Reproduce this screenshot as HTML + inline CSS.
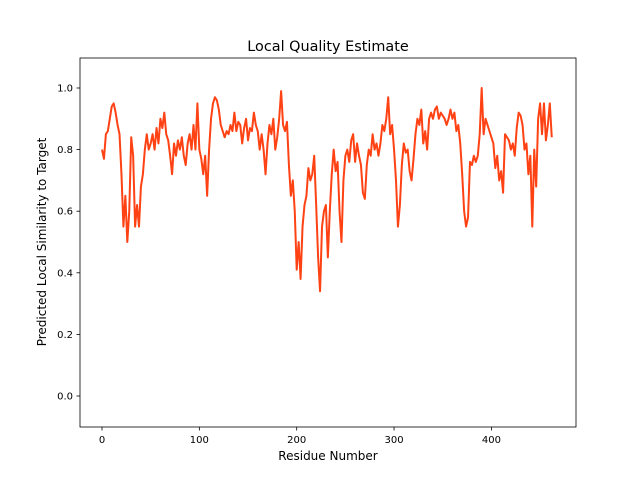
<!DOCTYPE html>
<html><head><meta charset="utf-8"><style>
body{margin:0;background:#fff}
svg text{font-family:"DejaVu Sans","Liberation Sans",sans-serif;fill:#000}
</style></head><body>
<svg id="chart" width="640" height="480" xmlns="http://www.w3.org/2000/svg">
<rect width="640" height="480" fill="#fff"/>
<text x="328" y="51" font-size="14.4" text-anchor="middle">Local Quality Estimate</text>
<g id="axes"></g>
<text x="328" y="460" font-size="12" text-anchor="middle">Residue Number</text>
<text x="0" y="0" font-size="12" text-anchor="middle" transform="translate(46,242) rotate(-90)">Predicted Local Similarity to Target</text>
</svg>
<script>
const xTicks=[0,100,200,300,400];
const yTicks=[0.0,0.2,0.4,0.6,0.8,1.0];
const yTickLabels=["0.0","0.2","0.4","0.6","0.8","1.0"];
const residueStep=2.0;
const quality=[0.80,0.77,0.85,0.86,0.90,0.94,0.95,0.92,0.88,0.85,0.72,0.55,0.65,0.50,0.60,0.84,0.78,0.55,0.62,0.55,0.68,0.72,0.80,0.85,0.80,0.82,0.85,0.80,0.87,0.82,0.90,0.87,0.92,0.85,0.83,0.78,0.72,0.82,0.78,0.83,0.80,0.84,0.78,0.75,0.82,0.85,0.80,0.88,0.80,0.95,0.80,0.77,0.72,0.78,0.65,0.80,0.90,0.95,0.97,0.96,0.93,0.88,0.86,0.84,0.86,0.85,0.88,0.86,0.92,0.86,0.89,0.88,0.82,0.87,0.90,0.83,0.87,0.86,0.92,0.88,0.86,0.80,0.85,0.80,0.72,0.82,0.88,0.85,0.90,0.80,0.84,0.90,0.99,0.88,0.86,0.89,0.75,0.65,0.70,0.60,0.41,0.50,0.38,0.55,0.62,0.65,0.74,0.70,0.72,0.78,0.62,0.45,0.34,0.55,0.60,0.62,0.45,0.60,0.72,0.80,0.73,0.76,0.60,0.50,0.70,0.78,0.80,0.76,0.83,0.85,0.76,0.82,0.78,0.75,0.66,0.64,0.75,0.80,0.78,0.85,0.80,0.82,0.78,0.82,0.88,0.86,0.90,0.97,0.85,0.88,0.80,0.70,0.55,0.62,0.75,0.82,0.79,0.80,0.73,0.70,0.77,0.85,0.90,0.88,0.93,0.82,0.86,0.80,0.90,0.92,0.90,0.93,0.94,0.90,0.92,0.91,0.90,0.88,0.90,0.93,0.90,0.92,0.86,0.88,0.82,0.72,0.60,0.55,0.58,0.76,0.75,0.78,0.76,0.78,0.85,1.00,0.85,0.90,0.88,0.86,0.84,0.82,0.74,0.78,0.70,0.73,0.66,0.85,0.84,0.83,0.80,0.82,0.78,0.87,0.92,0.91,0.88,0.80,0.82,0.72,0.78,0.55,0.80,0.68,0.90,0.95,0.85,0.95,0.83,0.88,0.95,0.84];
const NS="http://www.w3.org/2000/svg";
const X0=80,X1=576,Y0=58,Y1=427;
function xScale(r){return 102+r*0.9735;}
function yScale(v){return 396-v*308;}
const g=document.getElementById('axes');
function mk(t,a){const e=document.createElementNS(NS,t);for(const k in a)e.setAttribute(k,a[k]);g.appendChild(e);return e;}
const frame=mk('rect',{x:X0,y:Y0,width:X1-X0,height:Y1-Y0,fill:'none',stroke:'#000','stroke-width':0.8});


xTicks.forEach(t=>{const x=xScale(t);
const l=mk('line',{x1:x,x2:x,y1:Y1,y2:Y1+3.5,stroke:'#000','stroke-width':0.8});


const tx=mk('text',{x:x,y:Y1+16,'font-size':10,'text-anchor':'middle'});tx.textContent=String(t);

});
yTicks.forEach((t,i)=>{const y=yScale(t);
const l=mk('line',{x1:X0-3.5,x2:X0,y1:y,y2:y,stroke:'#000','stroke-width':0.8});


const tx=mk('text',{x:X0-7,y:y+3.5,'font-size':10,'text-anchor':'end'});tx.textContent=yTickLabels[i];

});
const d=quality.map((v,i)=>(i?'L':'M')+xScale(i*residueStep).toFixed(2)+','+yScale(v).toFixed(2)).join('');
const line=mk('path',{d:d,fill:'none',stroke:'#ff4214','stroke-width':2,'stroke-linejoin':'round'});


</script>
</body></html>
